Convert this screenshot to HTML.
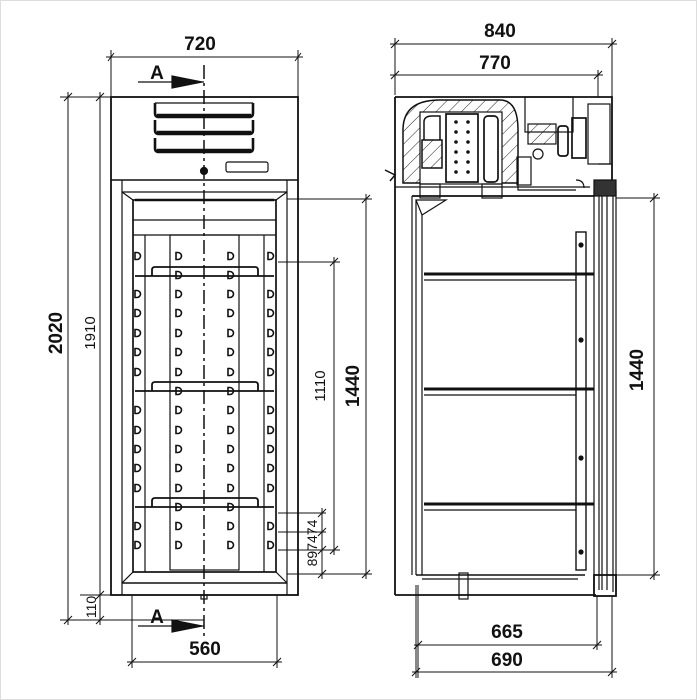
<!DOCTYPE html>
<html><head><meta charset="utf-8"><style>
html,body{margin:0;padding:0;background:#fff}
svg{display:block}
text{font-family:"Liberation Sans",sans-serif;fill:#111}
.b{font-weight:bold;font-size:19px}
.n{font-size:15px}
.s{font-size:14px}
</style></head><body>
<svg width="697" height="700" viewBox="0 0 697 700" xmlns="http://www.w3.org/2000/svg">
<defs>
<pattern id="h" width="9" height="9" patternUnits="userSpaceOnUse" patternTransform="rotate(45)"><line x1="0" y1="0" x2="0" y2="9" stroke="#222" stroke-width="1"/></pattern>
<g id="d"><path d="M-2,-3.5 h2 a3.5,3.5 0 0 1 0,7 h-2z" fill="none" stroke="#111" stroke-width="1.6"/></g>
</defs>
<rect x="0.5" y="0.5" width="696" height="699" fill="#fff" stroke="#ddd"/>
<g stroke="#111" fill="none" stroke-width="1.2">
<!-- LEFT VIEW -->
<rect x="111" y="97" width="187" height="498" stroke-width="1.8"/>
<line x1="111" y1="180" x2="298" y2="180" stroke-width="1.5"/>
<g stroke-width="2.6">
<path d="M155,103 v10 q0,4 4,4 h90 q4,0 4,-4 v-10"/><line x1="157" y1="115" x2="251" y2="115"/>
<path d="M155,120 v10 q0,4 4,4 h90 q4,0 4,-4 v-10"/><line x1="157" y1="132" x2="251" y2="132"/>
<path d="M155,138 v10 q0,4 4,4 h90 q4,0 4,-4 v-10"/><line x1="157" y1="150" x2="251" y2="150"/>
<line x1="155" y1="103" x2="253" y2="103" stroke-width="1.2"/>
</g>
<circle cx="204" cy="171" r="3.5" fill="#111"/>
<rect x="226" y="162" width="42" height="10" rx="2"/>
<line x1="122" y1="180" x2="122" y2="595"/><line x1="287" y1="180" x2="287" y2="595"/>
<line x1="122" y1="583" x2="287" y2="583" stroke-width="1.5"/>
<path d="M122,192 L287,192 M122,192 L133,200 M287,192 L276,200"/>
<rect x="133" y="200" width="143" height="372" stroke-width="1.7"/>
<line x1="135" y1="200" x2="274" y2="200" stroke-width="2.4"/>
<line x1="133" y1="220" x2="276" y2="220"/>
<line x1="133" y1="235" x2="276" y2="235"/>
<line x1="145" y1="235" x2="145" y2="572"/><line x1="264" y1="235" x2="264" y2="572"/>
<rect x="170" y="235" width="69" height="335"/>
<path d="M122,583 L133,572 M287,583 L276,572"/>
<g stroke-width="1.8">
<line x1="135" y1="276" x2="274" y2="276"/><path d="M152,276 v-6 q0,-3 3,-3 h100 q3,0 3,3 v6"/>
<line x1="135" y1="391" x2="274" y2="391"/><path d="M152,391 v-6 q0,-3 3,-3 h100 q3,0 3,3 v6"/>
<line x1="135" y1="507" x2="274" y2="507"/><path d="M152,507 v-6 q0,-3 3,-3 h100 q3,0 3,3 v6"/>
</g>
<line x1="204" y1="65" x2="204" y2="640" stroke-dasharray="14,4,3,4" stroke-width="1.5"/>
<rect x="201" y="595" width="6" height="4"/>
<!-- dims left view -->
<g stroke-width="1">
<line x1="111" y1="97" x2="111" y2="50"/><line x1="298" y1="97" x2="298" y2="50"/>
<line x1="106" y1="57" x2="303" y2="57"/><path d="M108,61 l6,-8 M295,61 l6,-8"/>
<line x1="60" y1="97" x2="111" y2="97"/><line x1="60" y1="620" x2="204" y2="620"/><line x1="80" y1="595" x2="111" y2="595"/>
<line x1="68" y1="92" x2="68" y2="625"/><path d="M64,101 l8,-8 M64,624 l8,-8"/>
<line x1="100" y1="92" x2="100" y2="625"/><path d="M96,101 l8,-8 M96,599 l8,-8 M96,624 l8,-8"/>
<line x1="132" y1="595" x2="132" y2="668"/><line x1="277" y1="595" x2="277" y2="668"/>
<line x1="127" y1="662" x2="282" y2="662"/><path d="M128,666 l8,-8 M273,666 l8,-8"/>
<line x1="287" y1="199" x2="372" y2="199"/><line x1="287" y1="574" x2="372" y2="574"/>
<line x1="366" y1="194" x2="366" y2="579"/><path d="M362,203 l8,-8 M362,578 l8,-8"/>
<line x1="278" y1="262" x2="340" y2="262"/><line x1="278" y1="550" x2="340" y2="550"/>
<line x1="334" y1="257" x2="334" y2="555"/><path d="M330,266 l8,-8 M330,554 l8,-8"/>
<line x1="278" y1="513" x2="326" y2="513"/><line x1="278" y1="532" x2="326" y2="532"/>
<line x1="322" y1="508" x2="322" y2="579"/><path d="M318,517 l8,-8 M318,536 l8,-8 M318,554 l8,-8 M318,578 l8,-8"/>
</g>
<line x1="138" y1="82" x2="204" y2="82" stroke-width="1.3"/><path d="M172,76 L202,82 L172,88z" fill="#111"/>
<line x1="138" y1="626" x2="204" y2="626" stroke-width="1.3"/><path d="M172,620 L202,626 L172,632z" fill="#111"/>
</g>
<g fill="none" stroke="#111">
<use href="#d" x="137" y="256"/><use href="#d" x="137" y="294"/><use href="#d" x="137" y="313"/><use href="#d" x="137" y="333"/><use href="#d" x="137" y="352"/><use href="#d" x="137" y="372"/><use href="#d" x="137" y="410"/><use href="#d" x="137" y="430"/><use href="#d" x="137" y="449"/><use href="#d" x="137" y="468"/><use href="#d" x="137" y="488"/><use href="#d" x="137" y="526"/><use href="#d" x="137" y="545"/>
<use href="#d" x="270" y="256"/><use href="#d" x="270" y="294"/><use href="#d" x="270" y="313"/><use href="#d" x="270" y="333"/><use href="#d" x="270" y="352"/><use href="#d" x="270" y="372"/><use href="#d" x="270" y="410"/><use href="#d" x="270" y="430"/><use href="#d" x="270" y="449"/><use href="#d" x="270" y="468"/><use href="#d" x="270" y="488"/><use href="#d" x="270" y="526"/><use href="#d" x="270" y="545"/>
<use href="#d" x="178" y="256"/><use href="#d" x="178" y="275"/><use href="#d" x="178" y="294"/><use href="#d" x="178" y="313"/><use href="#d" x="178" y="333"/><use href="#d" x="178" y="352"/><use href="#d" x="178" y="372"/><use href="#d" x="178" y="391"/><use href="#d" x="178" y="410"/><use href="#d" x="178" y="430"/><use href="#d" x="178" y="449"/><use href="#d" x="178" y="468"/><use href="#d" x="178" y="488"/><use href="#d" x="178" y="507"/><use href="#d" x="178" y="526"/><use href="#d" x="178" y="545"/>
<use href="#d" x="230" y="256"/><use href="#d" x="230" y="275"/><use href="#d" x="230" y="294"/><use href="#d" x="230" y="313"/><use href="#d" x="230" y="333"/><use href="#d" x="230" y="352"/><use href="#d" x="230" y="372"/><use href="#d" x="230" y="391"/><use href="#d" x="230" y="410"/><use href="#d" x="230" y="430"/><use href="#d" x="230" y="449"/><use href="#d" x="230" y="468"/><use href="#d" x="230" y="488"/><use href="#d" x="230" y="507"/><use href="#d" x="230" y="526"/><use href="#d" x="230" y="545"/>
</g>
<g stroke="#111" fill="none" stroke-width="1.2">
<!-- RIGHT VIEW -->
<path d="M395,97 H612 V196" stroke-width="1.8"/>
<line x1="395" y1="97" x2="395" y2="595" stroke-width="1.8"/>
<line x1="395" y1="595" x2="596" y2="595" stroke-width="1.8"/>
<line x1="395" y1="187" x2="590" y2="187"/>
<line x1="412" y1="196" x2="594" y2="196" stroke-width="1.8"/>
<line x1="412" y1="196" x2="412" y2="575"/><line x1="416" y1="200" x2="416" y2="575"/><line x1="422" y1="215" x2="422" y2="575"/>
<path d="M416,200 H446 L422,215z"/>
<line x1="416" y1="575" x2="585" y2="575" stroke-width="1.5"/><line x1="422" y1="579" x2="578" y2="579"/>
<rect x="459" y="573" width="9" height="26"/>
<g><line x1="424" y1="274" x2="594" y2="274" stroke-width="3"/><line x1="424" y1="280" x2="576" y2="280"/>
<line x1="424" y1="389" x2="594" y2="389" stroke-width="3"/><line x1="424" y1="395" x2="576" y2="395"/>
<line x1="424" y1="504" x2="594" y2="504" stroke-width="3"/><line x1="424" y1="510" x2="576" y2="510"/></g>
<rect x="576" y="232" width="10" height="338" stroke-width="1.4"/>
<circle cx="581" cy="245" r="2" fill="#111"/><circle cx="581" cy="340" r="2" fill="#111"/><circle cx="581" cy="458" r="2" fill="#111"/><circle cx="581" cy="552" r="2" fill="#111"/>
<line x1="594" y1="190" x2="594" y2="590"/><line x1="599" y1="190" x2="599" y2="590"/><line x1="602" y1="190" x2="602" y2="590"/><line x1="607" y1="190" x2="607" y2="590"/><line x1="613" y1="190" x2="613" y2="592"/><line x1="616" y1="190" x2="616" y2="592"/>
<rect x="594" y="180" width="22" height="16" fill="#333"/>
<rect x="594" y="575" width="22" height="21" stroke-width="1.8"/>
<path d="M403,180 V130 Q403,100 440,100 H500 Q518,100 518,130 V183 H403z" fill="url(#h)" stroke-width="1.5"/>
<rect x="420" y="112" width="82" height="72" fill="#fff"/>
<rect x="446" y="114" width="32" height="68" fill="#fff" stroke-width="1.7"/>
<g fill="#111" stroke="none">
<circle cx="456" cy="122" r="1.8"/><circle cx="468" cy="122" r="1.8"/><circle cx="456" cy="132" r="1.8"/><circle cx="468" cy="132" r="1.8"/><circle cx="456" cy="142" r="1.8"/><circle cx="468" cy="142" r="1.8"/><circle cx="456" cy="152" r="1.8"/><circle cx="468" cy="152" r="1.8"/><circle cx="456" cy="162" r="1.8"/><circle cx="468" cy="162" r="1.8"/><circle cx="456" cy="172" r="1.8"/><circle cx="468" cy="172" r="1.8"/>
</g>
<rect x="422" y="140" width="20" height="28" fill="url(#h)" stroke-width="1.5"/>
<path d="M424,140 V122 Q424,116 432,116 H440 V140" stroke-width="1.5"/>
<rect x="484" y="116" width="14" height="66" rx="4" stroke-width="1.7"/>
<rect x="420" y="184" width="20" height="14"/><rect x="482" y="184" width="20" height="14"/>
<rect x="525" y="97" width="48" height="35"/><rect x="528" y="124" width="28" height="20" fill="url(#h)"/>
<rect x="558" y="126" width="10" height="30" rx="3" stroke-width="1.7"/>
<rect x="517" y="157" width="14" height="28"/>
<circle cx="538" cy="154" r="5"/>
<rect x="572" y="118" width="14" height="40" stroke-width="1.7"/>
<rect x="588" y="104" width="22" height="60"/>
<path d="M518,183 V190 H576 M576,180 q8,0 8,8"/>
<line x1="598" y1="164" x2="612" y2="164"/>
<path d="M385,170 l10,5 l-5,6" stroke-width="1.5"/>
<g stroke-width="1">
<line x1="395" y1="95" x2="395" y2="38"/><line x1="612" y1="97" x2="612" y2="38"/><line x1="598" y1="97" x2="598" y2="70"/>
<line x1="390" y1="44" x2="617" y2="44"/><path d="M391,48 l8,-8 M608,48 l8,-8"/>
<line x1="390" y1="75" x2="603" y2="75"/><path d="M391,79 l8,-8 M594,79 l8,-8"/>
<line x1="616" y1="198" x2="660" y2="198"/><line x1="616" y1="575" x2="660" y2="575"/>
<line x1="654" y1="193" x2="654" y2="580"/><path d="M650,202 l8,-8 M650,579 l8,-8"/>
<line x1="418" y1="585" x2="418" y2="678"/><line x1="416" y1="585" x2="416" y2="678"/><line x1="597" y1="596" x2="597" y2="650"/><line x1="612" y1="596" x2="612" y2="678"/>
<line x1="414" y1="645" x2="602" y2="645"/><path d="M414,649 l8,-8 M593,649 l8,-8"/>
<line x1="412" y1="672" x2="617" y2="672"/><path d="M412,676 l8,-8 M608,676 l8,-8"/>
</g>
</g>
<text class="b" x="200" y="50" text-anchor="middle">720</text>
<text class="b" x="500" y="37" text-anchor="middle">840</text>
<text class="b" x="495" y="69" text-anchor="middle">770</text>
<text class="b" x="205" y="655" text-anchor="middle">560</text>
<text class="b" x="507" y="638" text-anchor="middle">665</text>
<text class="b" x="507" y="666" text-anchor="middle">690</text>
<text class="b" x="157" y="79" text-anchor="middle" font-size="17">A</text>
<text class="b" x="157" y="623" text-anchor="middle" font-size="17">A</text>
<text class="b" transform="translate(62,333) rotate(-90)" text-anchor="middle">2020</text>
<text class="n" transform="translate(95,333) rotate(-90)" text-anchor="middle">1910</text>
<text class="s" transform="translate(96,607) rotate(-90)" text-anchor="middle">110</text>
<text class="n" transform="translate(325,386) rotate(-90)" text-anchor="middle">1110</text>
<text class="b" transform="translate(359,386) rotate(-90)" text-anchor="middle">1440</text>
<text class="b" transform="translate(643,370) rotate(-90)" text-anchor="middle">1440</text>
<text class="s" transform="translate(317,543) rotate(-90)" text-anchor="middle">897474</text>
</svg>
</body></html>
